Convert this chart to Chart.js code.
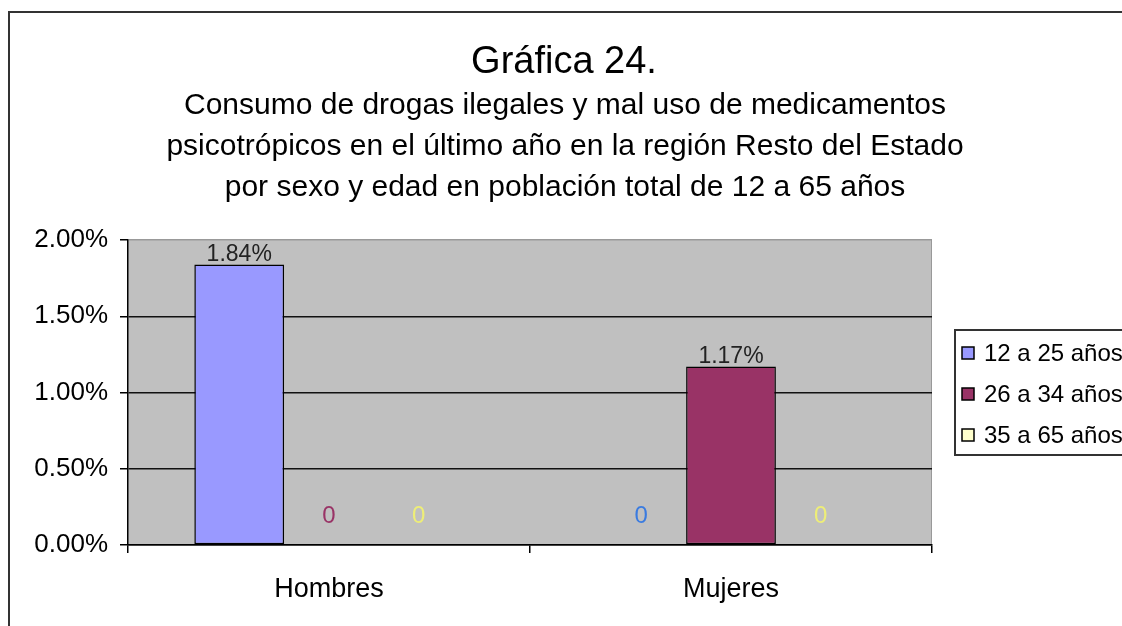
<!DOCTYPE html>
<html>
<head>
<meta charset="utf-8">
<script src="https://cdn.jsdelivr.net/npm/chart.js@4"></script>
<style>
  body { margin: 0; background: #fff; }
  #wrap { width: 1122px; height: 626px; }
</style>
</head>
<body>
<div id="wrap"><canvas id="chart" width="1122" height="626"></canvas></div>
<script>
const categories = ['Hombres', 'Mujeres'];
const seriesNames = ['12 a 25 años', '26 a 34 años', '35 a 65 años'];
const age12to25 = [1.84, 0];
const age26to34 = [0, 1.17];
const age35to65 = [0, 0];
const seriesColors = ['#9999FF', '#993366', '#FFFFCC'];
const zeroLabelColors = ['#3A7BE0', '#993366', '#EEEE77'];
const titleText = 'Gráfica 24.';
const subtitleLines = [
    'Consumo de drogas ilegales y mal uso de medicamentos',
    'psicotrópicos en el último año en la región Resto del Estado',
    'por sexo y edad en población total de 12 a 65 años'
];

const FONT = '"Liberation Sans", Arial, sans-serif';

// gray plot area, outer frame
const backgroundPlugin = {
    id: 'background',
    beforeDraw(chart) {
        const c = chart.ctx;
        const a = chart.chartArea;
        c.save();
        c.fillStyle = '#fff';
        c.fillRect(0, 0, chart.width, chart.height);
        c.strokeStyle = '#333';
        c.lineWidth = 2;
        c.strokeRect(9, 12, 1300, 800);
        c.fillStyle = '#C0C0C0';
        c.fillRect(a.left, a.top, a.right - a.left, a.bottom - a.top);
        c.strokeStyle = '#999';
        c.lineWidth = 1;
        c.beginPath();
        c.moveTo(a.right - 0.5, a.top);
        c.lineTo(a.right - 0.5, a.bottom);
        c.stroke();
        c.restore();
    }
};

// value labels, titles and legend
const labelsPlugin = {
    id: 'labels',
    afterDatasetsDraw(chart) {
        const c = chart.ctx;
        c.save();
        c.textAlign = 'center';
        chart.data.datasets.forEach((ds, i) => {
            chart.getDatasetMeta(i).data.forEach((bar, j) => {
                const v = ds.data[j];
                if (v > 0) {
                    c.font = '23px ' + FONT;
                    c.fillStyle = '#222';
                    c.textBaseline = 'bottom';
                    c.fillText(v.toFixed(2) + '%', bar.x, bar.y + 2);
                } else {
                    c.font = '24px ' + FONT;
                    c.fillStyle = zeroLabelColors[i];
                    c.textBaseline = 'middle';
                    c.fillText('0', bar.x, bar.y - 29);
                }
            });
        });
        c.restore();
    },
    afterDraw(chart) {
        const c = chart.ctx;
        c.save();
        c.fillStyle = '#000';
        c.textAlign = 'center';
        c.textBaseline = 'middle';
        c.font = '38px ' + FONT;
        c.fillText(titleText, 564, 63);
        c.font = '30px ' + FONT;
        subtitleLines.forEach((t, i) => c.fillText(t, 565, 106 + i * 41));

        // legend
        c.strokeStyle = '#333';
        c.lineWidth = 2;
        c.strokeRect(955, 330, 300, 125);
        c.textAlign = 'left';
        c.font = '24px ' + FONT;
        chart.data.datasets.forEach((ds, i) => {
            const y = 353 + i * 41;
            c.fillStyle = ds.backgroundColor;
            c.fillRect(962, y - 6, 12, 12);
            c.strokeStyle = '#000';
            c.lineWidth = 1.5;
            c.strokeRect(962, y - 6, 12, 12);
            c.fillStyle = '#000';
            c.fillText(ds.label, 984, y + 1);
        });
        c.restore();
    }
};

const seriesData = [age12to25, age26to34, age35to65];

new Chart(document.getElementById('chart'), {
    type: 'bar',
    data: {
        labels: categories,
        datasets: seriesNames.map((name, i) => ({
            label: name,
            data: seriesData[i],
            backgroundColor: seriesColors[i],
            borderColor: '#000',
            borderWidth: 1.5,
            borderSkipped: false,
            categoryPercentage: 0.67,
            barPercentage: 1
        }))
    },
    options: {
        responsive: false,
        animation: false,
        layout: { padding: { left: 0, top: 240, right: 190, bottom: 0 } },
        plugins: {
            legend: { display: false },
            title: { display: false },
            tooltip: { enabled: false }
        },
        scales: {
            x: {
                offset: true,
                border: { color: '#000', width: 1.5 },
                grid: { offset: true, drawOnChartArea: false, tickLength: 8, color: '#000', lineWidth: 1.5 },
                ticks: { color: '#000', font: { family: FONT, size: 27 }, padding: 20 },
                afterFit(scale) { scale.height = 81; }
            },
            y: {
                min: 0,
                max: 2,
                border: { color: '#000', width: 1.5 },
                grid: {
                    color: ctx => ctx.tick && ctx.tick.value === 2 ? '#999' : '#111',
                    tickColor: '#000',
                    tickLength: 8,
                    lineWidth: 1.5
                },
                ticks: {
                    stepSize: 0.5,
                    color: '#000',
                    font: { family: FONT, size: 26 },
                    padding: 12,
                    callback: v => v.toFixed(2) + '%'
                },
                afterFit(scale) { scale.width = 128; }
            }
        }
    },
    plugins: [backgroundPlugin, labelsPlugin]
});
</script>
</body>
</html>
